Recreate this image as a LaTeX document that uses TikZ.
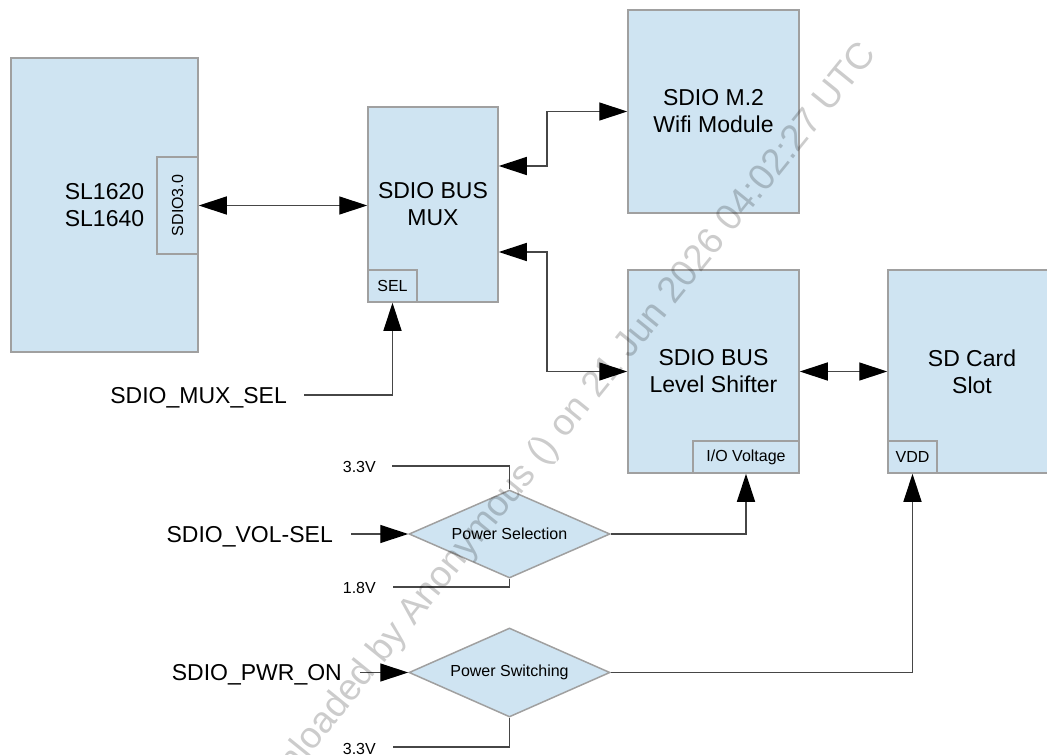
\documentclass[tikz,border=0pt]{standalone}
\usepackage{fontspec}
\setmainfont{Liberation Sans}
\usetikzlibrary{arrows.meta,shapes.geometric}
\definecolor{boxfill}{RGB}{207,228,242}
\definecolor{boxline}{RGB}{160,160,160}
\definecolor{wire}{RGB}{70,70,70}
\tikzset{
  blk/.style={draw=boxline, fill=boxfill, line width=1.5pt, inner sep=0pt, align=center,
              font=\fontsize{23}{27}\selectfont},
  subblk/.style={draw=boxline, fill=boxfill, line width=1.5pt, inner sep=0pt, align=center,
              font=\fontsize{16}{19}\selectfont},
  dia/.style={diamond, draw=boxline, fill=boxfill, line width=1.5pt, inner sep=0pt, aspect=2.3,
              font=\fontsize{16}{19}\selectfont},
  big/.style={inner sep=0pt, font=\fontsize{23}{27}\selectfont},
  small/.style={inner sep=0pt, font=\fontsize{16}{19}\selectfont},
  wireln/.style={draw=wire, line width=1.3pt},
  arr/.style={wireln, -{Triangle[length=28pt,width=18pt,fill=black,color=black]}},
  dbl/.style={wireln, {Triangle[length=28pt,width=18pt,fill=black,color=black]}-{Triangle[length=28pt,width=18pt,fill=black,color=black]}},
}
\begin{document}
\begin{tikzpicture}[x=1pt,y=-1pt]
\useasboundingbox (0,0) rectangle (1047,755);
\clip (0,0) rectangle (1047,755);

% blocks
\node[blk, minimum width=187, minimum height=294] (sl) at (104.5,205) {SL1620\\SL1640};
\node[subblk, minimum width=41, minimum height=97] (sdio) at (177.5,205.5) {\rotatebox{90}{SDIO3.0}};
\node[blk, minimum width=130, minimum height=195] (mux) at (433,204.5) {SDIO BUS\\MUX};
\node[subblk, minimum width=49, minimum height=32] (sel) at (392.5,286) {SEL};
\node[blk, minimum width=171, minimum height=203] (wifi) at (713.5,111.5) {SDIO M.2\\Wifi Module};
\node[blk, minimum width=171, minimum height=203] (ls) at (713.5,371.5) {SDIO BUS\\Level Shifter};
\node[subblk, minimum width=106, minimum height=32] (iov) at (746,457) {I/O Voltage};
\node[blk, minimum width=168, minimum height=203] (sd) at (972,371.5) {SD Card\\Slot};
\node[subblk, minimum width=49, minimum height=32] (vdd) at (912.5,457) {VDD};

% diamonds
\node[dia, minimum width=201, minimum height=88] (psel) at (509.5,534) {Power Selection};
\node[dia, minimum width=201, minimum height=89] (psw) at (509.5,672.5) {Power Switching};

% labels
\node[big, anchor=base east] (lmux) at (287,403) {SDIO\_MUX\_SEL};
\node[big, anchor=base east] (lvol) at (333,542) {SDIO\_VOL-SEL};
\node[big, anchor=base east] (lpwr) at (342,680) {SDIO\_PWR\_ON};
\node[small, anchor=base east] (l33a) at (376,472) {3.3V};
\node[small, anchor=base east] (l18) at (376,593) {1.8V};
\node[small, anchor=base east] (l33b) at (376,754) {3.3V};

% free ends
\coordinate (cmux) at (304,395);
\coordinate (cvol) at (351,534);
\coordinate (cpwr) at (360,672.5);
\coordinate (c33a) at (392,466);
\coordinate (c18) at (393,587);
\coordinate (c33b) at (393,747);
\coordinate (jx) at (547,0);

% connectors
\draw[dbl] (sdio.east) -- (sdio.east -| mux.west);
\draw[dbl] ([yshift=38.5pt]mux.east) -| (jx |- wifi.west) -- (wifi.west);
\draw[dbl] ([yshift=-47.5pt]mux.east) -| (jx |- ls.west) -- (ls.west);
\draw[dbl] (ls.east) -- (sd.west);
\draw[arr] (cmux) -| (sel.south);
\draw[arr] (cvol) -- (psel.west);
\draw[arr] (cpwr) -- (psw.west);
\draw[wireln] (c33a) -| (psel.north);
\draw[wireln] (c18) -| (psel.south);
\draw[wireln] (c33b) -| (psw.south);
\draw[arr] (psel.east) -| (iov.south);
\draw[arr] (psw.east) -| (vdd.south);

% watermark
\node[anchor=base east, rotate=51, inner sep=0pt, text=black, text opacity=0.2,
      font=\fontsize{37}{40}\selectfont] (wm) at (878,54)
  {Downloaded by Anonymous () on 21 Jun 2026 04:02:27 UTC};
\end{tikzpicture}
\end{document}
